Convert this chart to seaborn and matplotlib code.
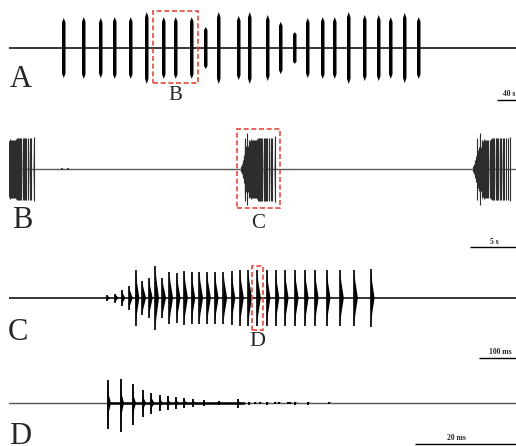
import matplotlib
matplotlib.use("Agg")
import matplotlib.pyplot as plt
import seaborn as sns
from matplotlib.patches import Rectangle

# ---- data ----
# A: whole bout, call onsets (s) and relative amplitude
a_onset = [106, 146, 180, 208, 240, 272, 306, 330, 362, 390, 416, 456, 478,
           514, 540, 568, 594, 624, 648, 676, 708, 736, 760, 788, 816]
a_amp = [1.0, 1.03, 1.0, 1.03, 1.03, 1.2, 1.03, 1.03, 1.03, 0.7, 1.2, 1.07, 1.2,
         1.1, 0.87, 0.53, 1.0, 1.03, 1.03, 1.2, 1.1, 1.1, 1.03, 1.17, 1.03]

# B: three calls, start (s), duration (s), relative amplitude
b_call_start = [-0.9, 23.2, 46.4]
b_call_dur = [3.4, 3.4, 3.8]
b_call_amp = [1.03, 1.05, 1.03]
b_dots = [5.3, 5.9]

# C: pulses of one call, onset (ms) and relative amplitude
c_onset = [264, 286, 304, 324, 342, 360, 378, 395, 414, 433, 453, 473, 493, 514,
           535, 556, 579, 601, 624, 646, 670, 696, 720, 745, 772, 799, 826, 858,
           894, 932, 977]
c_amp = [0.10, 0.15, 0.27, 0.40, 0.93, 0.57, 0.67, 1.07, 0.67, 0.87, 0.83, 0.90,
         0.87, 0.87, 0.87, 0.87, 0.87, 0.90, 0.93, 0.93, 0.93, 0.93, 0.93, 0.93,
         0.93, 0.93, 0.93, 0.93, 0.93, 0.93, 0.97]
c_tail = 10

# D: one pulse, sound waves onset (ms), up / down amplitude
d_onset = [19.7, 22.3, 24.7, 26.7, 28.4, 30.1, 31.7, 33.3, 35.0, 36.7, 38.9, 41.9,
           45.7, 47.9, 49.2, 50.2, 51.5, 53.2, 53.9, 55.7, 56.2, 57.2, 59.7, 63.9]
d_up = [0.76, 0.79, 0.62, 0.44, 0.34, 0.27, 0.23, 0.20, 0.17, 0.14, 0.10, 0.08,
        0.15, 0.05, 0.04, 0.04, 0.05, 0.04, 0.04, 0.04, 0.04, 0.05, 0.05, 0.04]
d_down = [0.86, 0.97, 0.74, 0.47, 0.36, 0.27, 0.23, 0.20, 0.17, 0.14, 0.10, 0.08,
          0.15, 0.05, 0.04, 0.04, 0.05, 0.04, 0.04, 0.04, 0.04, 0.05, 0.05, 0.04]
d_noise_span = [19.7, 47.0]

# ---- layout (pixels) ----
W, H = 516, 446
LEFT_PX = 9
AMP_PX = 30.0
RED = '#e5493d'

sns.set_style("white")
plt.rcParams['font.family'] = ['Liberation Serif', 'DejaVu Serif']

fig = plt.figure(figsize=(W / 100, H / 100), dpi=100)


def make_axes(base_px, u):
    ax = fig.add_axes([LEFT_PX / W, (H - base_px - 40) / H, (W - LEFT_PX) / W, 80 / H])
    ax.set_xlim(0, (W - LEFT_PX) * u)
    ax.set_ylim(-40 / AMP_PX, 40 / AMP_PX)
    ax.axis('off')
    ax.base_px, ax.u = base_px, u
    return ax


def px_x(ax, px):
    return (px - LEFT_PX) * ax.u


def px_y(ax, py):
    return (ax.base_px - py) / AMP_PX


def draw_pulse(ax, t, up, down, tail, color, lw, mid=0.6):
    ax.vlines(t, -down, up, color=color, lw=lw)
    ax.fill([t, t + 0.3 * tail, t + tail, t + 0.3 * tail, t],
            [up, mid * up, 0, -mid * down, -down], color=color, lw=0)


def baseline(ax, color, lw):
    x1 = ax.get_xlim()[1]
    sns.lineplot(x=[0, x1], y=[0, 0], ax=ax, color=color, lw=lw)


def zoom_box(ax, px0, py0, px1, py1, label, label_py, fs=15):
    x0, x1 = px_x(ax, px0), px_x(ax, px1)
    y0, y1 = px_y(ax, py1), px_y(ax, py0)
    ax.add_patch(Rectangle((x0, y0), x1 - x0, y1 - y0, fill=False, ec=RED, lw=1.2,
                           ls=(0, (3, 1.6)), clip_on=False, zorder=5))
    ax.text((x0 + x1) / 2, px_y(ax, label_py), label, ha='center', va='center',
            fontsize=fs, clip_on=False)


def panel_letter(ax, px, py_bottom, letter):
    ax.text(px_x(ax, px), px_y(ax, py_bottom), letter, ha='left', va='baseline',
            fontsize=22, clip_on=False)


def scale_bar(ax, px0, px1, py, label, text_px):
    y = px_y(ax, py)
    ax.plot([px_x(ax, px0), px_x(ax, px1)], [y, y], color='black', lw=1.0,
            clip_on=False, solid_capstyle='butt')
    ax.text(px_x(ax, text_px), y + 1.5 / AMP_PX, label, ha='center', va='bottom',
            fontsize=5.5, fontweight='bold', clip_on=False)


# ---- A ----
axA = make_axes(48, 2.0)
baseline(axA, 'black', 1.1)
for t, a in zip(a_onset, a_amp):
    w = 7
    axA.fill([t, t, t + w / 2, t + w, t + w, t + w / 2],
             [-0.85 * a, 0.85 * a, a, 0.85 * a, -0.85 * a, -a], color='black', lw=0)
zoom_box(axA, 153, 11, 198, 83, 'B', 95)
panel_letter(axA, 10, 87, 'A')
scale_bar(axA, 497, 516, 100, '40 s', 509)

# ---- B ----
axB = make_axes(169, 0.1)
baseline(axB, '#5a5a5a', 1.0)
span = c_onset[-1] + c_tail - c_onset[0]
for start, dur, amp in zip(b_call_start, b_call_dur, b_call_amp):
    k = dur / span
    for t, a in zip(c_onset, c_amp):
        ab = a / 0.93 * amp
        draw_pulse(axB, start + (t - c_onset[0]) * k, ab, ab, c_tail * k, '#2d2d2d', 0.8)
for t in b_dots:
    axB.vlines(t, -0.04, 0.04, color='#444', lw=1.5)
zoom_box(axB, 237, 129, 280, 208, 'C', 223)
panel_letter(axB, 12, 228, 'B')
scale_bar(axB, 470, 516, 247, '5 s', 494)

# ---- C ----
axC = make_axes(298, 2.7)
baseline(axC, 'black', 1.1)
for t, a in zip(c_onset, c_amp):
    draw_pulse(axC, t, a, a, c_tail, 'black', 1.2)
zoom_box(axC, 252, 266, 263, 330, 'D', 342, fs=16)
panel_letter(axC, 8, 340, 'C')
scale_bar(axC, 479, 516, 358, '100 ms', 500)

# ---- D ----
axD = make_axes(403, 0.2)
baseline(axD, '#555555', 1.0)
axD.plot(d_noise_span, [0, 0], color='black', lw=1.8)
for t, u, d in zip(d_onset, d_up, d_down):
    draw_pulse(axD, t, u, d, 0.7, 'black', 1.3, mid=0.4)
panel_letter(axD, 9, 444, 'D')
scale_bar(axD, 415, 516, 444, '20 ms', 456)

fig.savefig('out.png', dpi=100)
